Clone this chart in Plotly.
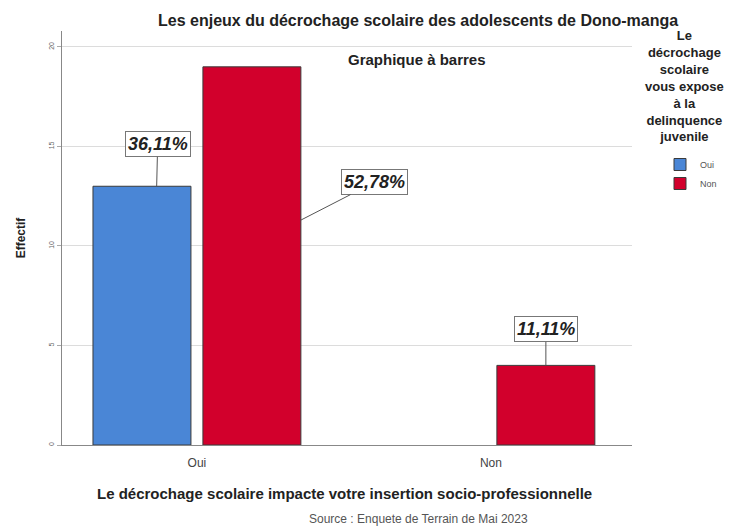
import plotly.graph_objects as go

categories = ["Oui", "Non"]
series_names = ["Oui", "Non"]
values_oui = [13, 0]
values_non = [19, 4]
pct_labels = ["36,11%", "52,78%", "11,11%"]
y_ticks = [0, 5, 10, 15, 20]

BLUE = "#4a86d6"
RED = "#d2002c"
FONT = "Liberation Sans, Arial, sans-serif"

fig = go.Figure()
fig.add_trace(go.Bar(x=categories, y=values_oui, name=series_names[0],
                     marker=dict(color=BLUE,
                                 line=dict(color="#3a3a3a", width=[1 if v else 0 for v in values_oui]))))
fig.add_trace(go.Bar(x=categories, y=values_non, name=series_names[1],
                     marker=dict(color=RED,
                                 line=dict(color="#3a3a3a", width=[1 if v else 0 for v in values_non]))))

# bar geometry (category units)
bargap = 0.252
bargroupgap = 0.109
slot = (1 - bargap) / 2
half = slot / 2

box = dict(showarrow=True, arrowhead=0, arrowwidth=1, arrowcolor="#555",
           bordercolor="#777", borderwidth=1, borderpad=2, bgcolor="white",
           font=dict(family=FONT, size=18, color="#222"))
fig.add_annotation(x=0 - half + 0.05, y=values_oui[0], text="<b><i>%s</i></b>" % pct_labels[0],
                   ax=1, ay=-42, **box)
fig.add_annotation(x=0 + half + slot * (1 - bargroupgap) / 2, y=11.3,
                   text="<b><i>%s</i></b>" % pct_labels[1], ax=74, ay=-38, **box)
fig.add_annotation(x=1 + half, y=values_non[1], text="<b><i>%s</i></b>" % pct_labels[2],
                   ax=0, ay=-36, **box)

L, R, T, B = 62, 632, 31, 445

def page(xp, yp, text, size, bold=False, color="#111", xanchor="center", yanchor="middle"):
    fig.add_annotation(x=(xp - L) / (R - L), y=(B - yp) / (B - T), xref="paper", yref="paper",
                       text=("<b>%s</b>" % text) if bold else text, showarrow=False,
                       xanchor=xanchor, yanchor=yanchor,
                       font=dict(family=FONT, size=size, color=color))

page(418, 20, "Les enjeux du décrochage scolaire des adolescents de Dono-manga", 16, bold=True, color="#222")
page(417, 60, "Graphique à barres", 15, bold=True, color="#222")
page(684, 86, "Le<br>décrochage<br>scolaire<br>vous expose<br>à la<br>delinquence<br>juvenile", 13, bold=True, color="#222")
page(344, 493, "Le décrochage scolaire impacte votre insertion socio-professionnelle", 15, bold=True, color="#222")
page(418, 519, "Source : Enquete de Terrain de Mai 2023", 12, color="#555")

fig.update_layout(
    width=733, height=528,
    margin=dict(l=L, r=733 - R, t=T, b=528 - B, autoexpand=False),
    paper_bgcolor="white", plot_bgcolor="white",
    barmode="group", bargap=bargap, bargroupgap=bargroupgap,
    font=dict(family=FONT, color="#333"),
    showlegend=True,
    legend=dict(x=(660 - L) / (R - L), y=(B - 150) / (B - T), xanchor="left", yanchor="top",
                font=dict(family=FONT, size=9, color="#555"), itemwidth=30,
                tracegroupgap=0, bgcolor="rgba(0,0,0,0)"),
    xaxis=dict(range=[-0.459, 1.48], showline=True, linecolor="#888", linewidth=1,
               ticks="", tickfont=dict(size=12, color="#444"), showgrid=False,
               ticklabelstandoff=7),
    yaxis=dict(range=[0, 20.8], tickvals=y_ticks, showline=True, linecolor="#888",
               linewidth=1, gridcolor="#dcdcdc", gridwidth=1, ticks="outside", ticklen=4,
               tickcolor="#aaa", tickangle=-90, tickfont=dict(size=7, color="#666"),
               zeroline=False,
               title=dict(text="<b>Effectif</b>", font=dict(size=12, color="#222"), standoff=20)),
)

fig.write_html("out.html", config={"displayModeBar": False})
with open("out.html", encoding="utf-8") as f:
    html = f.read()
html = html.replace("<body>", '<body style="margin:0;padding:0;overflow:hidden">', 1)
with open("out.html", "w", encoding="utf-8") as f:
    f.write(html)
